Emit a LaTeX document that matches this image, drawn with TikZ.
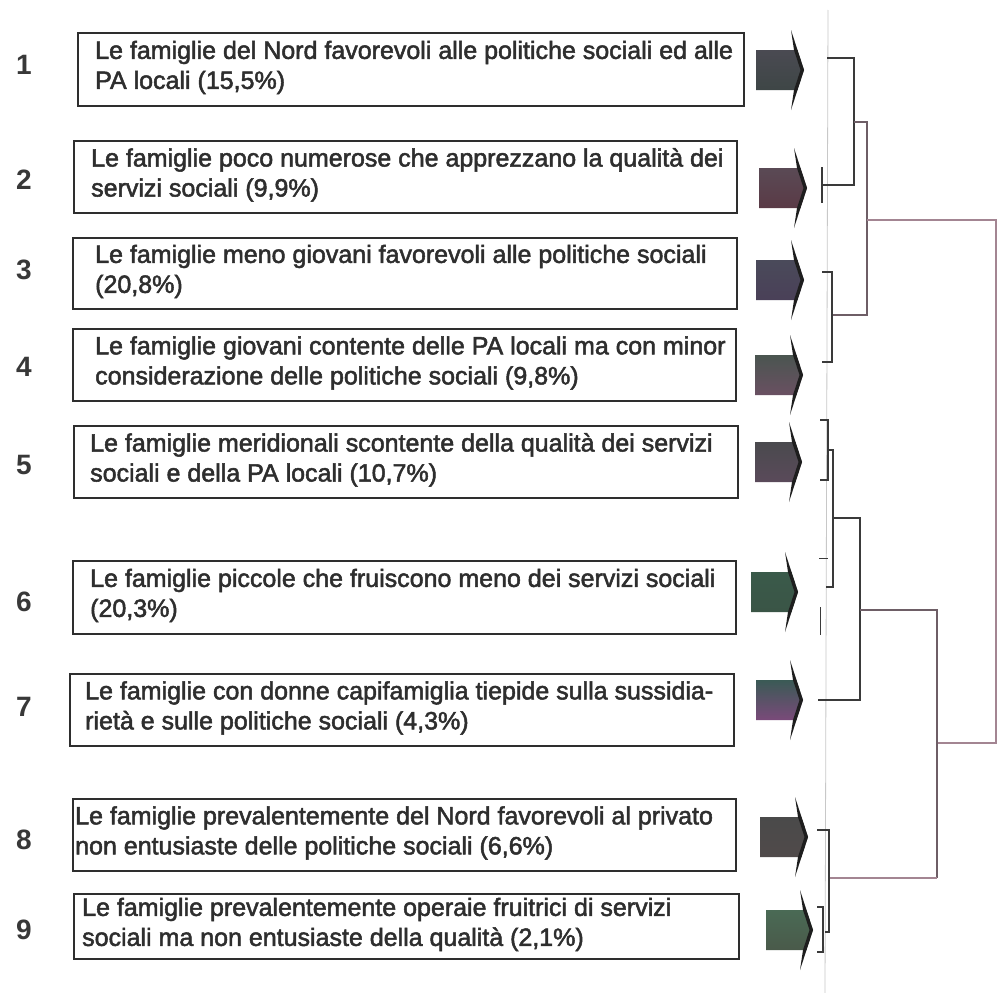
\documentclass[tikz,border=0pt]{standalone}
\usepackage{fontspec}
\setmainfont{Liberation Sans}
\newfontfamily\boxfont[FakeBold=2]{Liberation Sans}
\newfontfamily\numfont{Liberation Sans}
\definecolor{boxc}{HTML}{2E2E2E}
\definecolor{txtc}{HTML}{2E2E2E}
\definecolor{numc}{HTML}{383838}
\definecolor{denc}{HTML}{3A3A3A}
\definecolor{denm}{HTML}{6E5E66}
\definecolor{denp}{HTML}{A38592}
\definecolor{axc}{HTML}{C8C8C8}
\definecolor{spk}{HTML}{1E1E1E}
\newcommand\BlockArr[6]{%
  % #1 left x, #2 tip x, #3 centre y, #4 top, #5 middle, #6 bottom colour
  \definecolor{arrT}{HTML}{#4}\definecolor{arrM}{HTML}{#5}\definecolor{arrB}{HTML}{#6}%
  \shade[top color=arrT, middle color=arrM, bottom color=arrB]
    (#1,#3-20) -- ({#2-6.5},#3-20) -- (#2,#3) -- ({#2-6.5},#3+20) -- (#1,#3+20) -- cycle;
  \fill[spk] ({#2-13},#3-40) -- (#2,#3) -- ({#2-13},#3+40) -- ({#2-10},#3+20)
    -- ({#2-3.5},#3) -- ({#2-10},#3-20) -- cycle;
}
\tikzset{
  boxframe/.style={draw=boxc, line width=1.8pt, anchor=north west, inner sep=0pt},
  boxtext/.style={anchor=west, align=left, inner sep=0pt, text=txtc, yshift=2pt,
    font=\boxfont\fontsize{25}{30}\selectfont},
  num/.style={text=numc, font=\numfont\bfseries\fontsize{28}{30}\selectfont},
  den/.style={draw=denc, line width=1.4pt},
  denmid/.style={draw=denm, line width=1.2pt},
  denpk/.style={draw=denp, line width=1.1pt},
  axisl/.style={draw=axc, line width=0.8pt}
}
\begin{document}
\begin{tikzpicture}[x=1pt,y=-1pt]
\useasboundingbox (0,0) rectangle (999,993);
\fill[white] (0,0) rectangle (999,993);

% numbers
\node[num] (n1) at (24,65) {1};
\node[num] (n2) at (24,180) {2};
\node[num] (n3) at (24,270) {3};
\node[num] (n4) at (24,367) {4};
\node[num] (n5) at (24,465) {5};
\node[num] (n6) at (24,602) {6};
\node[num] (n7) at (24,707) {7};
\node[num] (n8) at (24,840) {8};
\node[num] (n9) at (24,930) {9};

% boxes
\node[boxframe, minimum width=666, minimum height=73] (b1) at (77,32) {};
\node[boxtext] (t1) at ([xshift=18]b1.west) {Le famiglie del Nord favorevoli alle politiche sociali ed alle\\PA locali (15,5\%)};
\node[boxframe, minimum width=663, minimum height=72] (b2) at (73,140) {};
\node[boxtext] (t2) at ([xshift=18]b2.west) {Le famiglie poco numerose che apprezzano la qualità dei\\servizi sociali (9,9\%)};
\node[boxframe, minimum width=664, minimum height=71] (b3) at (72,237) {};
\node[boxtext] (t3) at ([xshift=23]b3.west) {Le famiglie meno giovani favorevoli alle politiche sociali\\(20,8\%)};
\node[boxframe, minimum width=663, minimum height=72] (b4) at (72,328) {};
\node[boxtext] (t4) at ([xshift=23]b4.west) {Le famiglie giovani contente delle PA locali ma con minor\\considerazione delle politiche sociali (9,8\%)};
\node[boxframe, minimum width=664, minimum height=72] (b5) at (73,425) {};
\node[boxtext] (t5) at ([xshift=17]b5.west) {Le famiglie meridionali scontente della qualità dei servizi\\sociali e della PA locali (10,7\%)};
\node[boxframe, minimum width=663, minimum height=73] (b6) at (72,560) {};
\node[boxtext] (t6) at ([xshift=18]b6.west) {Le famiglie piccole che fruiscono meno dei servizi sociali\\(20,3\%)};
\node[boxframe, minimum width=664, minimum height=72] (b7) at (69,673) {};
\node[boxtext] (t7) at ([xshift=16]b7.west) {Le famiglie con donne capifamiglia tiepide sulla sussidia-\\rietà e sulle politiche sociali (4,3\%)};
\node[boxframe, minimum width=663, minimum height=72] (b8) at (72,798) {};
\node[boxtext] (t8) at ([xshift=3]b8.west) {Le famiglie prevalentemente del Nord favorevoli al privato\\non entusiaste delle politiche sociali (6,6\%)};
\node[boxframe, minimum width=665, minimum height=65] (b9) at (73,893) {};
\node[boxtext] (t9) at ([xshift=9]b9.west) {Le famiglie prevalentemente operaie fruitrici di servizi\\sociali ma non entusiaste della qualità (2,1\%)};

% block arrows
\BlockArr{756}{804}{70}{4A4A52}{6A5A6A}{3E4646}
\BlockArr{759}{807}{188}{5A4A55}{8A4A5C}{5A3A46}
\BlockArr{756}{804}{280}{4A4A5A}{6A5A7A}{4A4058}
\BlockArr{755}{803}{375}{4A5550}{5A6E5A}{6A5062}
\BlockArr{755}{802}{462}{4A4A4E}{3F8A60}{5A4A5A}
\BlockArr{751}{798}{592}{3A5A4A}{4A8A62}{3A5546}
\BlockArr{756}{803}{700}{3A5A55}{4A6A60}{7A4A7A}
\BlockArr{760}{808}{837}{4A4A4A}{5A5552}{504A4A}
\BlockArr{766}{813}{930}{4A6A55}{8A4A8A}{4A5A4A}

% dendrogram axis
\coordinate (ax1) at (828,10);
\coordinate (ax2) at (825,993);
\draw[axisl] (ax1) -- (ax2);

% cluster 1-2
\coordinate (l1) at (827,58);
\coordinate (k12a) at (854,58);
\coordinate (k12b) at (854,185);
\coordinate (l2) at (822,185);
\coordinate (m12) at (854,122);
\coordinate (l2t) at (822,167);
\coordinate (l2b) at (822,203);
% cluster 3-4
\coordinate (l3) at (822,272);
\coordinate (k34a) at (832,272);
\coordinate (k34b) at (832,362);
\coordinate (l4) at (822,362);
\coordinate (m34) at (832,315);
% merge of 1-4
\coordinate (mA1) at (867,122);
\coordinate (mA2) at (867,315);
\coordinate (mA) at (867,220);
\coordinate (topR) at (996,220);
\coordinate (botR) at (996,743);
\coordinate (mC) at (937,743);
% cluster 5-7
\coordinate (l5) at (820,420);
\coordinate (k5a) at (828,420);
\coordinate (k5b) at (828,480);
\coordinate (l5b) at (820,480);
\coordinate (m5) at (828,450);
\coordinate (k56a) at (833,450);
\coordinate (k56b) at (833,587);
\coordinate (l6) at (826,587);
\coordinate (m56) at (833,518);
\coordinate (k567a) at (860,518);
\coordinate (k567b) at (860,700);
\coordinate (l7) at (818,700);
\coordinate (m567) at (860,610);
\coordinate (t6a) at (819,558);
\coordinate (t6b) at (828,558);
\coordinate (t7a) at (820,607);
\coordinate (t7b) at (820,635);
\coordinate (kB1) at (937,610);
\coordinate (kB2) at (937,878);
% cluster 8-9
\coordinate (l8) at (817,830);
\coordinate (k89a) at (829,830);
\coordinate (k89b) at (829,932);
\coordinate (l9) at (825,932);
\coordinate (m89) at (829,878);
\coordinate (l9t) at (823,907);
\coordinate (l9b) at (823,952);
\coordinate (l9ta) at (817,907);
\coordinate (l9ba) at (817,952);

\draw[den] (l1) -- (k12a) -- (k12b) -- (l2);
\draw[den, line width=2.4pt] (l2t) -- (l2b);
\draw[denmid] (m12) -- (mA1) -- (mA2) -- (m34);
\draw[den] (l3) -- (k34a) -- (k34b) -- (l4);
\draw[denpk] (mA) -- (topR) -- (botR) -- (mC);
\draw[den] (l5) -- (k5a) -- (k5b) -- (l5b);
\draw[den] (m5) -- (k56a) -- (k56b) -- (l6);
\draw[den] (m56) -- (k567a) -- (k567b) -- (l7);
\draw[den, line width=1pt] (t6a) -- (t6b);
\draw[den, line width=1pt] (t7a) -- (t7b);
\draw[denmid] (m567) -- (kB1) -- (kB2);
\draw[denpk] (kB2) -- (m89);
\draw[den] (l8) -- (k89a) -- (k89b) -- (l9);
\draw[den, line width=1.2pt] (l9ta) -- (l9t) -- (l9b) -- (l9ba);
\end{tikzpicture}
\end{document}
